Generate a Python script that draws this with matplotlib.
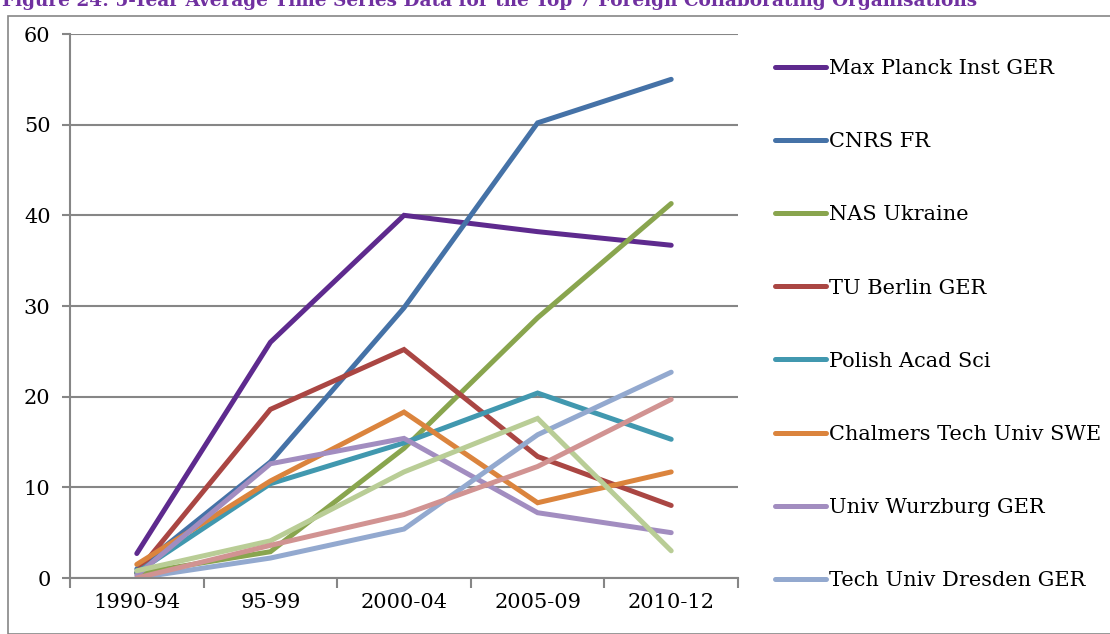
import matplotlib
matplotlib.use("Agg")
import matplotlib.pyplot as plt
from matplotlib.patches import Rectangle
import numpy as np

periods = ["1990-94", "95-99", "2000-04", "2005-09", "2010-12"]

max_planck = [2.7, 26.0, 40.0, 38.2, 36.7]
cnrs = [1.0, 12.8, 29.8, 50.2, 55.0]
nas_ukraine = [0.5, 2.9, 14.3, 28.7, 41.3]
tu_berlin = [0.6, 18.6, 25.2, 13.4, 8.0]
polish_acad = [0.6, 10.4, 14.9, 20.4, 15.3]
chalmers = [1.5, 10.7, 18.3, 8.3, 11.7]
wurzburg = [0.3, 12.6, 15.4, 7.2, 5.0]
dresden = [0.0, 2.2, 5.4, 15.8, 22.7]
series_9 = [0.8, 4.1, 11.7, 17.6, 3.0]
series_10 = [0.0, 3.6, 7.0, 12.3, 19.7]

names = ["Max Planck Inst GER", "CNRS FR", "NAS Ukraine", "TU Berlin GER",
         "Polish Acad Sci", "Chalmers Tech Univ SWE", "Univ Wurzburg GER",
         "Tech Univ Dresden GER", "Series 9", "Series 10"]
colors = ["#5E2A8E", "#4572A7", "#89A54E", "#AA4643", "#4198AF",
          "#DB843D", "#A28DC0", "#93A9CF", "#B9CD96", "#D19392"]
data = [max_planck, cnrs, nas_ukraine, tu_berlin, polish_acad, chalmers,
        wurzburg, dresden, series_9, series_10]

plt.rcParams['font.family'] = ['DejaVu Serif']

fig = plt.figure(figsize=(11.1, 6.34), dpi=100)
ax = fig.add_axes([70/1110, 1 - 578/634, (738-70)/1110, (578-34)/634])

x = np.arange(len(periods))
lines = []
for vals, c, n in zip(data, colors, names):
    ln, = ax.plot(x, vals, color=c, lw=3.6, label=n, solid_capstyle='round',
                  solid_joinstyle='miter')
    lines.append(ln)

ax.set_xlim(-0.5, len(periods) - 0.5)
ax.set_ylim(0, 60)
ax.set_yticks(range(0, 61, 10))
ax.set_xticks(x)
ax.set_xticklabels(periods, fontsize=15)
ax.set_xticks(np.arange(-0.5, len(periods), 1), minor=True)
ax.tick_params(axis='x', which='major', length=0, pad=11)
ax.tick_params(axis='x', which='minor', length=7, color='#868686', width=1.5)
ax.tick_params(axis='y', length=6, color='#868686', width=1.5, labelsize=15, pad=8)
ax.yaxis.grid(True, color='#868686', lw=1.5)
ax.set_axisbelow(True)
for s in ['top', 'right']:
    ax.spines[s].set_visible(False)
for s in ['left', 'bottom']:
    ax.spines[s].set_color('#868686')
    ax.spines[s].set_linewidth(1.5)

leg = fig.legend(lines[:8], names[:8], loc='upper left',
                 bbox_to_anchor=(775/1110, 1 - 59/634), frameon=False,
                 fontsize=15, handlelength=2.45, handletextpad=0.12,
                 labelspacing=2.6, borderaxespad=0, borderpad=0)
for h in leg.get_lines():
    h.set_linewidth(3.6)

fig.add_artist(Rectangle((8/1110, 0), 1.2, 1 - 16/634, transform=fig.transFigure,
                         fill=False, edgecolor='#868686', lw=1.2))

fig.text(0.002, 1 - 1/634, "Figure 24: 5-Year Average Time Series Data for the Top 7 Foreign Collaborating Organisations",
         color='#7030A0', fontsize=13.3, fontweight='bold', va='center', ha='left')

fig.savefig("out.png", dpi=100)
